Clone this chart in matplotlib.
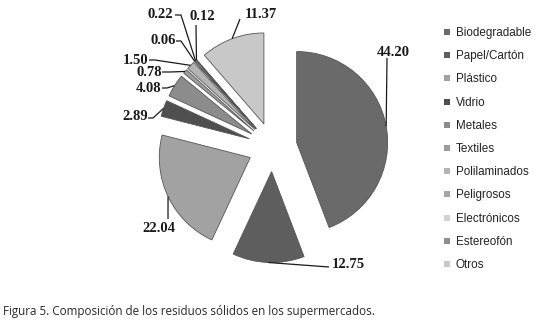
import numpy as np
import matplotlib
matplotlib.use("Agg")
import matplotlib.pyplot as plt
from matplotlib.lines import Line2D

# datos de la figura 5
categorias = ['Biodegradable', 'Papel/Cartón', 'Plástico', 'Vidrio', 'Metales',
              'Textiles', 'Polilaminados', 'Peligrosos', 'Electrónicos',
              'Estereofón', 'Otros']
porcentajes = [44.20, 12.75, 22.04, 2.89, 4.08, 0.78, 1.50, 0.06, 0.22, 0.12, 11.37]
etiquetas = ['44.20', '12.75', '22.04', '2.89', '4.08', '0.78', '1.50',
             '0.06', '0.22', '0.12', '11.37']
colores = ['#6a6a6a', '#5e5e5e', '#a2a2a2', '#4f4f4f', '#8c8c8c', '#9c9c9c',
           '#b4b4b4', '#a6a6a6', '#d2d2d2', '#8e8e8e', '#c8c8c8']

W, H = 557, 327
cx, cy, R = 272.5, 147, 91   # centro y radio del pastel en pixeles
sep = 0.27

def px(x, y):
    # pixel (origen arriba a la izquierda) -> coordenadas de datos
    return (x - cx) / R, (cy - y) / R

fig = plt.figure(figsize=(W / 100, H / 100), dpi=100)
ax = fig.add_axes([0, 0, 1, 1])

wedges, _ = ax.pie(porcentajes, colors=colores, startangle=90, counterclock=False,
                   explode=[sep] * len(porcentajes), radius=1,
                   wedgeprops=dict(edgecolor='#555555', linewidth=0.6))

ax.set_xlim(-cx / R, (W - cx) / R)
ax.set_ylim((cy - H) / R, cy / R)
ax.set_aspect('auto')
ax.axis('off')

# posicion del texto y punto donde empieza la linea guia (pixeles)
pos_texto = [(393, 52), (348, 265), (159, 228), (135, 117), (149, 88), (149, 72),
             (136, 60), (163, 40), (160, 15), (202, 17), (261, 15)]
inicio_linea = [[(387, 58)], [(329, 267)], [(168, 219)], [(148, 118), (153, 118)],
                [(162, 88), (167, 88)], [(162, 72), (170, 72)], [(149, 60), (155, 60)],
                [(176, 41), (181, 41)], [(175, 15), (181, 15)], [(196, 25)],
                [(240, 19)]]

for w, txt, (tx, ty), pts in zip(wedges, etiquetas, pos_texto, inicio_linea):
    ang = np.deg2rad((w.theta1 + w.theta2) / 2)
    ox, oy = w.center
    ancla = (ox + np.cos(ang), oy + np.sin(ang))
    xs = [px(*p)[0] for p in pts] + [ancla[0]]
    ys = [px(*p)[1] for p in pts] + [ancla[1]]
    ax.plot(xs, ys, color='#1a1a1a', lw=0.9, solid_capstyle='butt')
    ax.text(*px(tx, ty), txt, ha='center', va='center', fontsize=10.5,
            fontweight='bold', family='Liberation Serif', color='#1a1a1a')

# leyenda
handles = [Line2D([], [], marker='s', ls='', markersize=5, color=c, markeredgewidth=0)
           for c in colores]
fig.legend(handles, categorias, loc='upper left', bbox_to_anchor=(444 / W, 1 - 27 / H),
           frameon=False, handlelength=0.5, handletextpad=0.5, labelspacing=0.96,
           borderaxespad=0, borderpad=0,
           prop=dict(family='Liberation Sans', size=8.4))
for t in fig.legends[0].get_texts():
    t.set_color('#222222')

fig.text(3 / W, 1 - 312 / H,
         'Figura 5. Composición de los residuos sólidos en los supermercados.',
         ha='left', va='center', fontsize=8.4, family='Open Sans', color='#2a2a2a')

fig.savefig('out.png', dpi=100)
